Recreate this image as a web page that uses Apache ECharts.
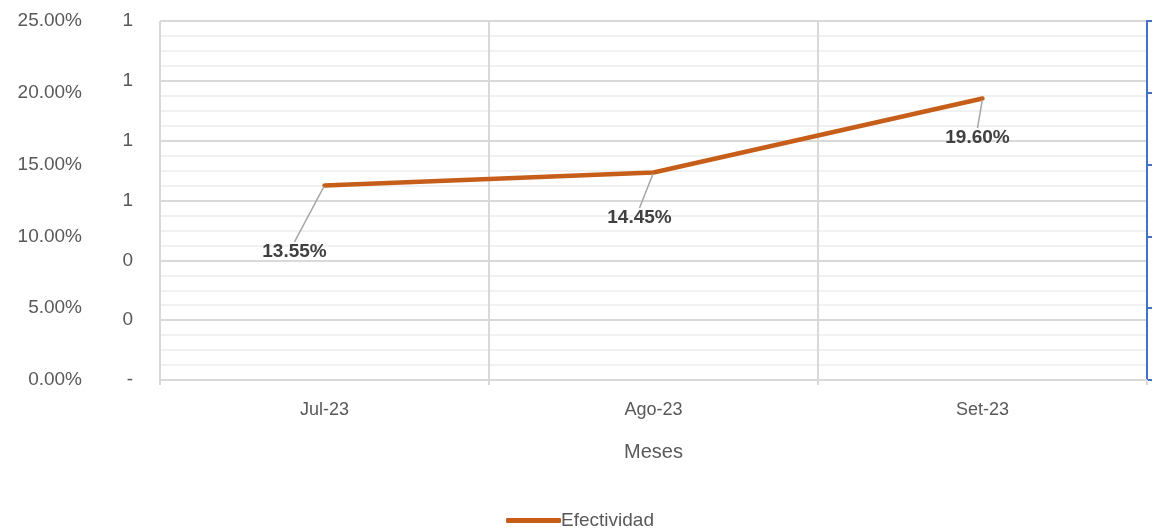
<!DOCTYPE html>
<html>
<head>
<meta charset="utf-8">
<script src="https://cdn.jsdelivr.net/npm/echarts@6/dist/echarts.min.js"></script>
<style>
  html, body { margin: 0; padding: 0; background: #fff; }
  #chart { width: 1160px; height: 531px; }
</style>
</head>
<body>
<div id="chart"></div>
<script>
// Meses y efectividad mensual
var months = ['Jul-23', 'Ago-23', 'Set-23'];
var efectividad = [0.1355, 0.1445, 0.196];
// desplazamiento de cada etiqueta respecto a su punto
var labelShift = [[-30, 66], [-14, 45], [-5, 39]];

var FONT = 'Liberation Sans';
var TXT = '#595959';

var chart = echarts.init(document.getElementById('chart'));
chart.setOption({
  animation: false,
  textStyle: { fontFamily: FONT },
  grid: { left: 160, right: 13, top: 21, bottom: 151 },
  legend: {
    bottom: -4,
    left: 'center',
    itemWidth: 55,
    itemHeight: 5,
    itemGap: 10,
    data: [{ name: 'Efectividad', icon: 'roundRect' }],
    textStyle: { color: TXT, fontSize: 19, fontFamily: FONT, padding: [0, 0, 0, -5] }
  },
  xAxis: {
    type: 'category',
    data: months,
    boundaryGap: true,
    name: 'Meses',
    nameLocation: 'middle',
    nameGap: 62,
    nameTextStyle: { color: TXT, fontSize: 20, fontFamily: FONT },
    axisLine: { show: true, lineStyle: { color: '#d9d9d9', width: 2 } },
    axisTick: { show: true, length: 5, interval: 0, lineStyle: { color: '#d9d9d9', width: 2 } },
    axisLabel: { color: TXT, fontSize: 18, margin: 21, fontFamily: FONT },
    splitLine: { show: true, interval: 0, lineStyle: { color: '#d9d9d9', width: 2 } }
  },
  yAxis: [
    {
      // eje principal en porcentaje
      type: 'value',
      min: 0, max: 0.25, interval: 0.05,
      position: 'left',
      axisLine: { show: false },
      axisTick: { show: false },
      splitLine: { show: false },
      axisLabel: {
        color: TXT, fontSize: 19, margin: 78, fontFamily: FONT,
        formatter: function (v) { return (v * 100).toFixed(2) + '%'; }
      }
    },
    {
      // eje secundario con la cuadrícula
      type: 'value',
      min: 0, max: 1.2, interval: 0.2,
      position: 'left',
      axisLine: { show: false },
      axisTick: { show: false },
      axisLabel: {
        color: TXT, fontSize: 19, margin: 27, fontFamily: FONT,
        formatter: function (v) { return v === 0 ? '-' : String(Math.round(v)); }
      },
      splitLine: { show: true, lineStyle: { color: '#d9d9d9', width: 2 } },
      minorTick: { show: false, splitNumber: 4 },
      minorSplitLine: { show: true, lineStyle: { color: '#ededed', width: 1.5 } }
    },
    {
      // eje derecho sin etiquetas
      type: 'value',
      min: 0, max: 0.25, interval: 0.05,
      position: 'right',
      axisLine: { show: true, lineStyle: { color: '#4472c4', width: 2 } },
      axisTick: { show: true, inside: false, length: 5, lineStyle: { color: '#4472c4', width: 2 } },
      axisLabel: { show: false },
      splitLine: { show: false }
    }
  ],
  series: [{
    name: 'Efectividad',
    type: 'line',
    yAxisIndex: 0,
    data: efectividad,
    symbol: 'circle',
    symbolSize: 2,
    lineStyle: { color: '#c65e1a', width: 4.5, cap: 'round', join: 'round' },
    itemStyle: { color: '#c65e1a' },
    label: {
      show: true,
      position: 'inside',
      color: '#404040',
      fontSize: 19,
      fontWeight: 'bold',
      fontFamily: FONT,
      formatter: function (p) { return (p.value * 100).toFixed(2) + '%'; }
    },
    labelLine: { show: true, lineStyle: { color: '#a6a6a6', width: 1.5 } },
    labelLayout: function (p) {
      var s = labelShift[p.dataIndex];
      return { dx: s[0], dy: s[1] };
    }
  }]
});
</script>
</body>
</html>
